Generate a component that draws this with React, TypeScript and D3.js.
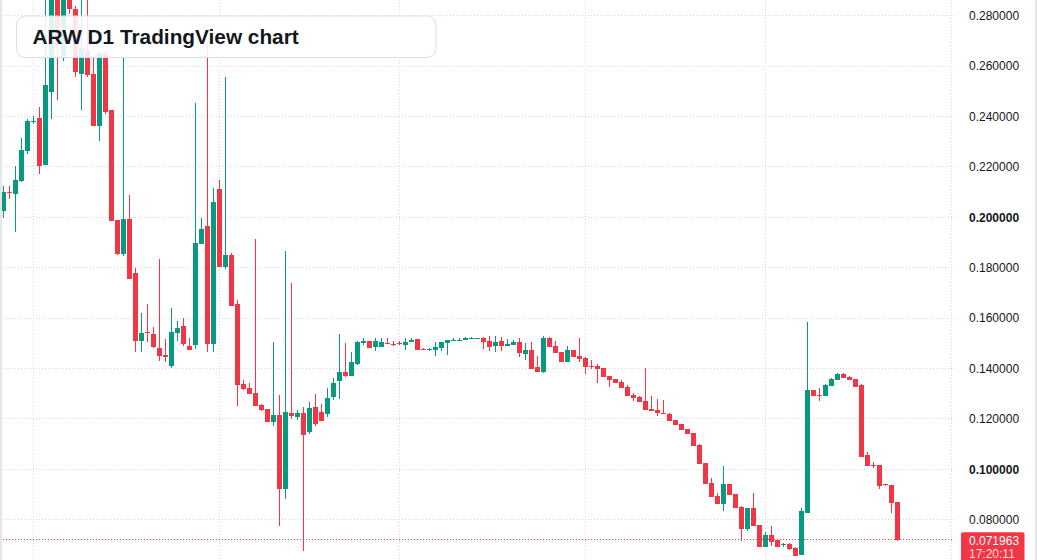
import React from "react";
import * as d3 from "d3";

// ---- data (daily candles) ----
const opens = [0.2026,0.2101,0.2094,0.2144,0.2264,0.2378,0.2394,0.2208,0.2497,0.2880,
0.2636,0.2930,0.2827,0.2569,0.2664,0.2569,0.2364,0.2652,0.2426,0.1991,
0.1855,0.1995,0.1779,0.1509,0.1545,0.1537,0.1481,0.1455,0.1410,0.1541,
0.1569,0.1489,0.1495,0.1894,0.1965,0.1498,0.2113,0.1802,0.1850,0.1656,
0.1338,0.1323,0.1303,0.1255,0.1239,0.1189,0.1215,0.0922,0.1223,0.1209,
0.1223,0.1147,0.1247,0.1227,0.1219,0.1287,0.1350,0.1386,0.1370,0.1418,
0.1500,0.1508,0.1485,0.1487,0.1501,0.1499,0.1500,0.1495,0.1504,0.1516,
0.1477,0.1475,0.1473,0.1483,0.1502,0.1510,0.1513,0.1512,0.1519,0.1520,
0.1521,0.1509,0.1489,0.1509,0.1489,0.1493,0.1505,0.1458,0.1473,0.1404,
0.1388,0.1521,0.1489,0.1466,0.1426,0.1473,0.1450,0.1442,0.1410,0.1410,
0.1402,0.1370,0.1358,0.1346,0.1327,0.1295,0.1287,0.1271,0.1239,0.1235,
0.1225,0.1219,0.1196,0.1180,0.1160,0.1144,0.1097,0.1025,0.0946,0.0894,
0.0862,0.0942,0.0902,0.0850,0.0763,0.0846,0.0779,0.0691,0.0739,0.0719,
0.0703,0.0703,0.0687,0.0659,0.0828,0.1315,0.1295,0.1292,0.1332,0.1356,
0.1378,0.1366,0.1358,0.1335,0.1057,0.1018,0.1018,0.0942,0.0938,0.0870];

const highs = [0.2124,0.2124,0.2204,0.2315,0.2390,0.2402,0.2437,0.2890,0.2920,0.2950,
0.2990,0.2965,0.2838,0.2883,0.2883,0.2644,0.2660,0.2660,0.2426,0.1991,
0.2644,0.2089,0.1799,0.1621,0.1654,0.1564,0.1835,0.1516,0.1640,0.1587,
0.1601,0.1521,0.2454,0.1998,0.2692,0.2117,0.2148,0.2558,0.1859,0.1672,
0.1354,0.1342,0.1914,0.1259,0.1239,0.1505,0.1295,0.1866,0.1738,0.1235,
0.1247,0.1267,0.1299,0.1259,0.1323,0.1362,0.1537,0.1501,0.1467,0.1509,
0.1520,0.1508,0.1520,0.1520,0.1520,0.1508,0.1508,0.1520,0.1521,0.1516,
0.1482,0.1480,0.1505,0.1505,0.1513,0.1520,0.1520,0.1524,0.1525,0.1522,
0.1525,0.1529,0.1529,0.1525,0.1517,0.1513,0.1521,0.1501,0.1505,0.1450,
0.1529,0.1525,0.1509,0.1466,0.1489,0.1473,0.1521,0.1446,0.1434,0.1418,
0.1402,0.1370,0.1358,0.1354,0.1335,0.1303,0.1291,0.1402,0.1291,0.1279,
0.1275,0.1223,0.1196,0.1180,0.1160,0.1144,0.1101,0.1025,0.0966,0.0906,
0.1013,0.0942,0.0902,0.0854,0.0846,0.0906,0.0779,0.0751,0.0775,0.0719,
0.0707,0.0707,0.0691,0.0846,0.1585,0.1315,0.1323,0.1339,0.1362,0.1382,
0.1382,0.1370,0.1358,0.1339,0.1069,0.1029,0.1018,0.0942,0.0938,0.0870];

const lows = [0.1999,0.2074,0.1942,0.2141,0.2253,0.2369,0.2172,0.2208,0.2390,0.2465,
0.2620,0.2807,0.2557,0.2426,0.2555,0.2362,0.2303,0.2409,0.1987,0.1851,
0.1846,0.1757,0.1466,0.1466,0.1506,0.1481,0.1431,0.1424,0.1402,0.1509,
0.1488,0.1473,0.1477,0.1894,0.1464,0.1467,0.1802,0.1796,0.1648,0.1251,
0.1315,0.1300,0.1252,0.1231,0.1189,0.1172,0.0776,0.0882,0.1201,0.1196,
0.0677,0.1139,0.1172,0.1192,0.1207,0.1275,0.1279,0.1366,0.1370,0.1414,
0.1493,0.1483,0.1471,0.1487,0.1498,0.1488,0.1492,0.1475,0.1504,0.1475,
0.1474,0.1470,0.1451,0.1471,0.1454,0.1510,0.1512,0.1512,0.1517,0.1519,
0.1477,0.1469,0.1466,0.1469,0.1489,0.1493,0.1446,0.1434,0.1400,0.1388,
0.1384,0.1485,0.1462,0.1426,0.1426,0.1446,0.1426,0.1378,0.1398,0.1342,
0.1366,0.1327,0.1342,0.1323,0.1291,0.1271,0.1267,0.1235,0.1231,0.1211,
0.1222,0.1192,0.1176,0.1156,0.1140,0.1093,0.1021,0.0942,0.0890,0.0862,
0.0834,0.0898,0.0846,0.0715,0.0755,0.0775,0.0691,0.0691,0.0695,0.0691,
0.0691,0.0679,0.0655,0.0659,0.0828,0.1292,0.1272,0.1292,0.1332,0.1356,
0.1364,0.1356,0.1328,0.1050,0.1014,0.1006,0.0923,0.0935,0.0828,0.0715];

const closes = [0.2100,0.2099,0.2148,0.2267,0.2382,0.2381,0.2203,0.2525,0.2890,0.2684,
0.2935,0.2825,0.2576,0.2672,0.2564,0.2364,0.2652,0.2419,0.1987,0.1855,
0.1995,0.1757,0.1509,0.1541,0.1543,0.1485,0.1449,0.1445,0.1544,0.1561,
0.1497,0.1473,0.1898,0.1954,0.1498,0.2060,0.1802,0.1850,0.1648,0.1336,
0.1319,0.1300,0.1252,0.1235,0.1189,0.1215,0.0922,0.1227,0.1211,0.1223,
0.1136,0.1243,0.1180,0.1192,0.1283,0.1342,0.1386,0.1370,0.1426,0.1505,
0.1510,0.1483,0.1508,0.1505,0.1498,0.1497,0.1498,0.1505,0.1514,0.1475,
0.1475,0.1477,0.1485,0.1505,0.1512,0.1514,0.1515,0.1521,0.1521,0.1521,
0.1505,0.1487,0.1505,0.1489,0.1498,0.1505,0.1462,0.1473,0.1400,0.1388,
0.1521,0.1485,0.1462,0.1426,0.1473,0.1446,0.1438,0.1406,0.1406,0.1398,
0.1366,0.1354,0.1342,0.1323,0.1291,0.1283,0.1267,0.1235,0.1231,0.1223,
0.1223,0.1192,0.1176,0.1156,0.1140,0.1093,0.1021,0.0942,0.0890,0.0862,
0.0942,0.0898,0.0846,0.0763,0.0846,0.0775,0.0691,0.0739,0.0711,0.0691,
0.0705,0.0683,0.0655,0.0834,0.1315,0.1292,0.1293,0.1335,0.1358,0.1378,
0.1364,0.1356,0.1328,0.1050,0.1014,0.1016,0.0935,0.0938,0.0867,0.071963];

const priceTicks = [0.08, 0.10, 0.12, 0.14, 0.16, 0.18, 0.20, 0.22, 0.24, 0.26, 0.28];
const boldTicks = [0.10, 0.20];
const TITLE = "ARW D1 TradingView chart";
const COUNTDOWN = "17:20:11";
const FIRST_DAY = Date.UTC(2023, 1, 24);

const W = 1037;
const H = 560;
const PLOT_RIGHT = 957;
const GREEN = "#089981";
const RED = "#f23645";
const GRID = "#d5d8de";
const FONT = "'Liberation Sans', Arial, Helvetica, sans-serif";

const dates = opens.map((_, i) => d3.utcDay.offset(new Date(FIRST_DAY), i));

export default function App() {
  const x = d3.scaleUtc().domain([dates[0], dates[dates.length - 1]]).range([3.3, 897.3]);
  const y = d3.scaleLinear().domain([0.08, 0.28]).range([519.7, 15.7]);
  const monthTicks = d3.utcMonth.range(dates[0], d3.utcDay.offset(dates[dates.length - 1], 12));
  const fmt = d3.format(".6f");
  const last = closes[closes.length - 1];
  const yLast = y(last);

  return (
    <svg width={W} height={H} style={{ position: "absolute", left: 0, top: 0, background: "#fff" }}
      xmlns="http://www.w3.org/2000/svg">
      <rect x={0} y={0} width={W} height={H} fill="#ffffff" />
      <defs>
        <clipPath id="plot"><rect x={0} y={0} width={PLOT_RIGHT} height={H} /></clipPath>
      </defs>
      {/* grid */}
      <g stroke={GRID} strokeWidth={1} strokeDasharray="1 2">
        {priceTicks.map((p) => (
          <line key={"h" + p} x1={0} x2={PLOT_RIGHT} y1={Math.floor(y(p)) + 0.5} y2={Math.floor(y(p)) + 0.5} />
        ))}
        {monthTicks.map((d) => (
          <line key={"v" + d.getTime()} x1={Math.floor(x(d)) + 0.5} x2={Math.floor(x(d)) + 0.5} y1={0} y2={H} />
        ))}
      </g>
      {/* candles */}
      <g clipPath="url(#plot)">
        {opens.map((o, i) => {
          const c = closes[i];
          const up = c >= o;
          const col = up ? GREEN : RED;
          const cx = Math.floor(x(dates[i]));
          const bt = Math.round(y(Math.max(o, c)));
          const bb = Math.max(Math.round(y(Math.min(o, c))), bt + 1);
          const wt = Math.round(y(highs[i]));
          const wb = Math.max(Math.round(y(lows[i])), wt + 1);
          return (
            <g key={i} fill={col}>
              <rect x={cx} y={wt} width={1} height={wb - wt} />
              <rect x={cx - 2} y={bt} width={5} height={bb - bt} />
            </g>
          );
        })}
      </g>
      {/* last price line */}
      <line x1={0} x2={952} y1={Math.floor(yLast) + 0.5} y2={Math.floor(yLast) + 0.5}
        stroke={RED} strokeWidth={1} strokeDasharray="1 2" />
      {/* title box */}
      <rect x={16.5} y={16} width={419.5} height={41.5} rx={9} ry={9}
        fill="rgba(255,255,255,0.88)" stroke="#d3e1f5" strokeWidth={1} />
      <text x={32.5} y={44.3} fontFamily={FONT} fontWeight="bold" fontSize={20.8} fill="#131722">{TITLE}</text>
      {/* price axis labels */}
      <g fontFamily={FONT} fontSize={12} fill="#131722">
        {priceTicks.map((p) => (
          <text key={"t" + p} x={969} y={y(p) + 4.3}
            fontWeight={boldTicks.some((b) => Math.abs(b - p) < 1e-9) ? "bold" : "normal"}>
            {fmt(p)}
          </text>
        ))}
      </g>
      {/* last price label */}
      <rect x={961} y={yLast - 7.7} width={63.5} height={40} rx={2} fill={RED} />
      <text x={969} y={yLast + 5.2} fontFamily={FONT} fontSize={12} fill="#ffffff">{fmt(last)}</text>
      <text x={969} y={yLast + 18} fontFamily={FONT} fontSize={12} fill="#ffffff" fillOpacity={0.85}>{COUNTDOWN}</text>
      {/* outer borders */}
      <rect x={0} y={0} width={2} height={H} fill="#e6e6e6" />
      <rect x={W - 2} y={0} width={2} height={H} fill="#e6e6e6" />
    </svg>
  );
}
